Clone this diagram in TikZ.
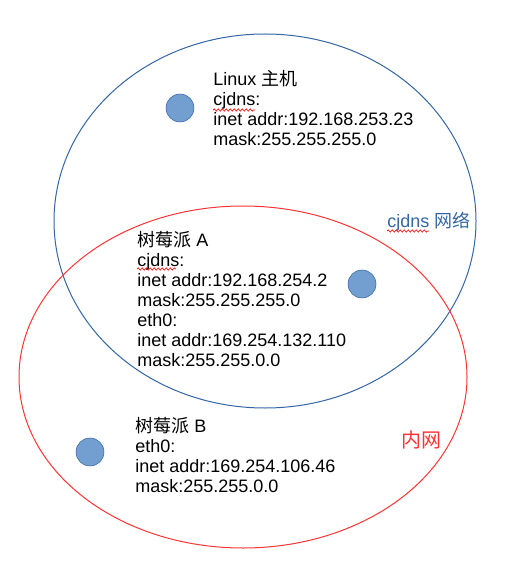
\documentclass[tikz,border=0pt]{standalone}
\usepackage{fontspec}
\setmainfont{Liberation Sans}
\newfontfamily\cjk{Noto Sans CJK SC}
\usetikzlibrary{decorations.pathmorphing}
\definecolor{netblue}{HTML}{3465A4}
\definecolor{dotfill}{HTML}{729FCF}
\definecolor{lanred}{HTML}{FF3333}
\begin{document}
\begin{tikzpicture}[x=0.75pt,y=-0.75pt,
    host/.style={circle,draw=netblue,fill=dotfill,minimum size=21pt,inner sep=0pt},
    info/.style={anchor=base west,align=left,inner sep=0pt,font=\fontsize{13.5}{15}\selectfont},
    spell/.style={red,line width=0.5pt,decorate,decoration={snake,segment length=3pt,amplitude=0.8pt}}]
  \useasboundingbox (0,0) rectangle (508,573);
  \draw[netblue,line width=0.75pt] (265,221) ellipse [x radius=211, y radius=187];
  \draw[lanred,line width=0.75pt] (243,377) ellipse [x radius=224, y radius=171];
  \node[host] (linux) at (180,108) {};
  \node[host] (pia) at (362,284) {};
  \node[host] (pib) at (90,452) {};
  \node[info] (linuxinfo) at (213,146) {Linux {\cjk 主机}\\cjdns:\\inet addr:192.168.253.23\\mask:255.255.255.0};
  \node[info] (piainfo) at (137,366) {{\cjk 树莓派} A\\cjdns:\\inet addr:192.168.254.2\\mask:255.255.255.0\\eth0:\\inet addr:169.254.132.110\\mask:255.255.0.0};
  \node[info] (pibinfo) at (135,492) {{\cjk 树莓派} B\\eth0:\\inet addr:169.254.106.46\\mask:255.255.0.0};
  \node[info,text=netblue] (cjdnslabel) at (387,228) {cjdns {\cjk 网络}};
  \node[info,text=lanred,font=\fontsize{15}{18}\cjk] (lanlabel) at (401,447) {内网};
  \draw[spell] (213,110) -- (255,110);
  \draw[spell] (137,269) -- (176,269);
  \draw[spell] (387,231) -- (429,231);
\end{tikzpicture}
\end{document}
